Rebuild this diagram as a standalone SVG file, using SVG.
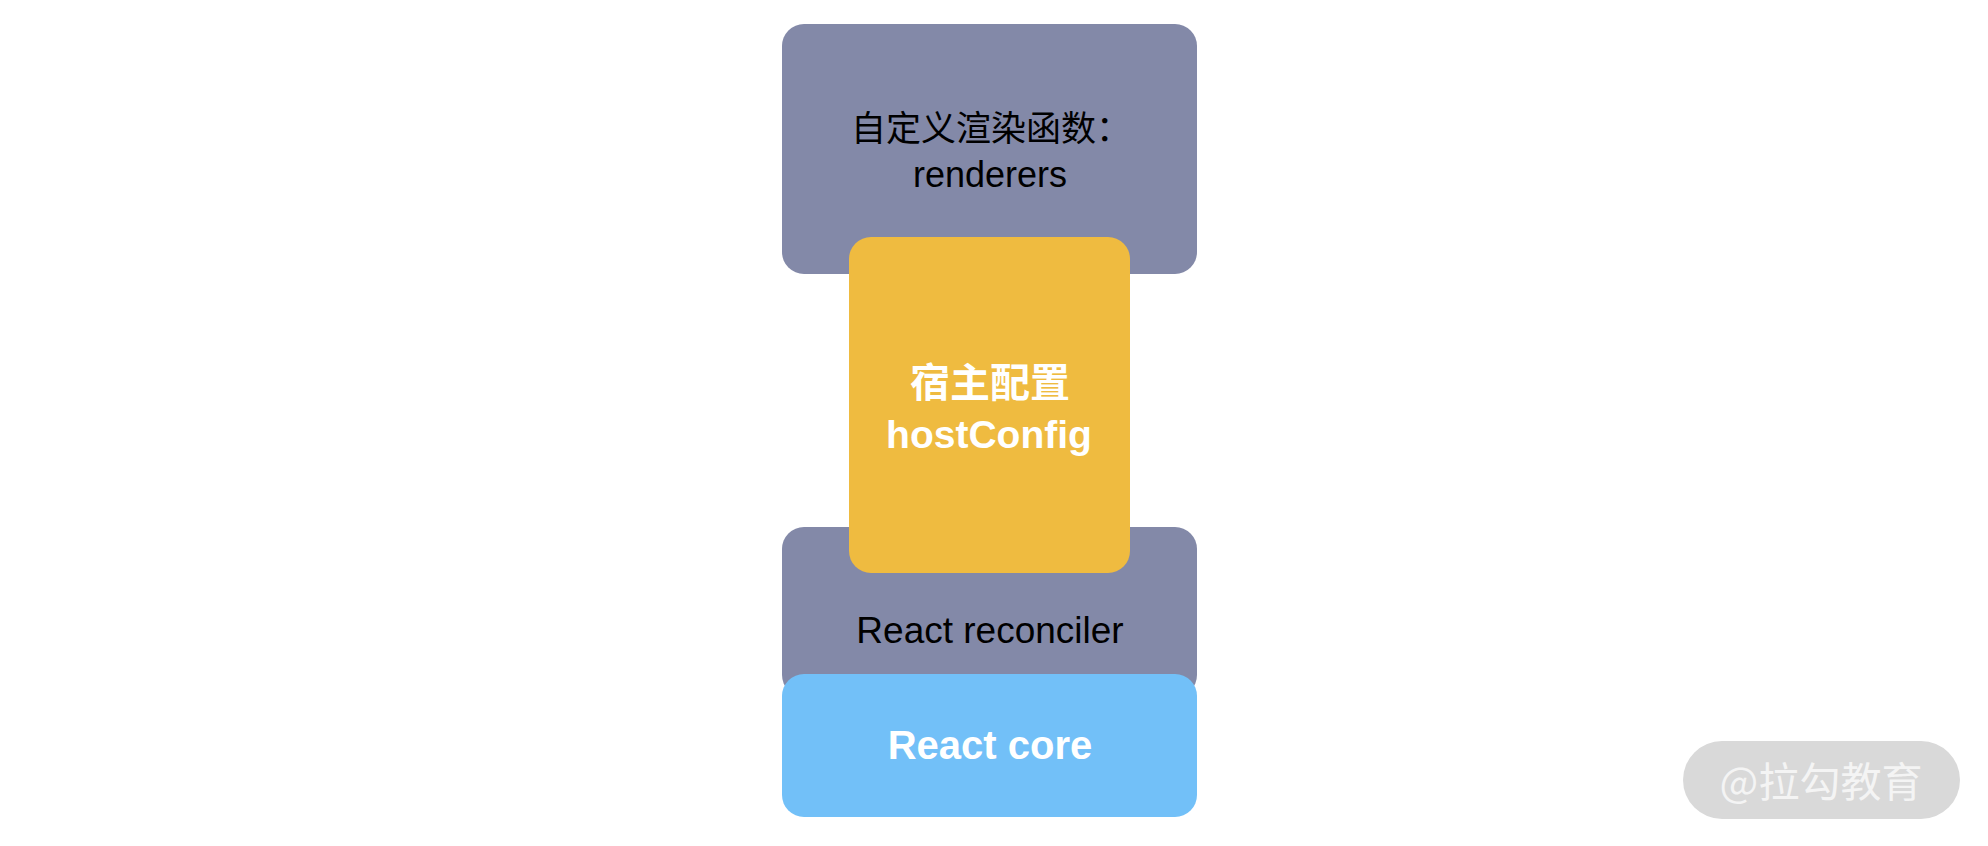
<svg xmlns="http://www.w3.org/2000/svg" width="1988" height="846" viewBox="0 0 1988 846">
<style>
.gray{fill:#8389A8}
.yellow{fill:#EFBB40}
.blue{fill:#72C0F8}
.t{font-family:"Liberation Sans","Noto Sans CJK SC",Arial,sans-serif;text-anchor:middle}
.cjk{font-family:"Noto Sans CJK SC","Liberation Sans",sans-serif;text-anchor:middle}
.dark{fill:#000}
.white{fill:#fff}
.b{font-weight:bold}
</style>
<rect width="1988" height="846" fill="#fff"/>
<g id="renderers">
<rect class="gray" x="782" y="24" width="415" height="250" rx="22"/>
<text class="cjk dark" x="991" y="141" font-size="35">自定义渲染函数：</text>
<text class="t dark" x="990" y="187" font-size="36">renderers</text>
</g>
<g id="reconciler">
<rect class="gray" x="782" y="527" width="415" height="170" rx="22"/>
<text class="t dark" x="990" y="643" font-size="37">React reconciler</text>
</g>
<g id="core">
<rect class="blue" x="782" y="674" width="415" height="143" rx="22"/>
<text class="t white b" x="990" y="759" font-size="40">React core</text>
</g>
<g id="hostConfig">
<rect class="yellow" x="849" y="237" width="281" height="336" rx="22"/>
<text class="cjk white b" x="990" y="397" font-size="40">宿主配置</text>
<text class="t white b" x="989" y="448" font-size="39">hostConfig</text>
</g>
<g id="connectors"></g>
<g id="watermark">
<rect x="1683" y="741" width="277" height="78" rx="39" fill="#D9D9D9"/>
<text class="cjk" x="1821" y="797" font-size="41" fill="#F4F4F4">@拉勾教育</text>
</g>
</svg>
